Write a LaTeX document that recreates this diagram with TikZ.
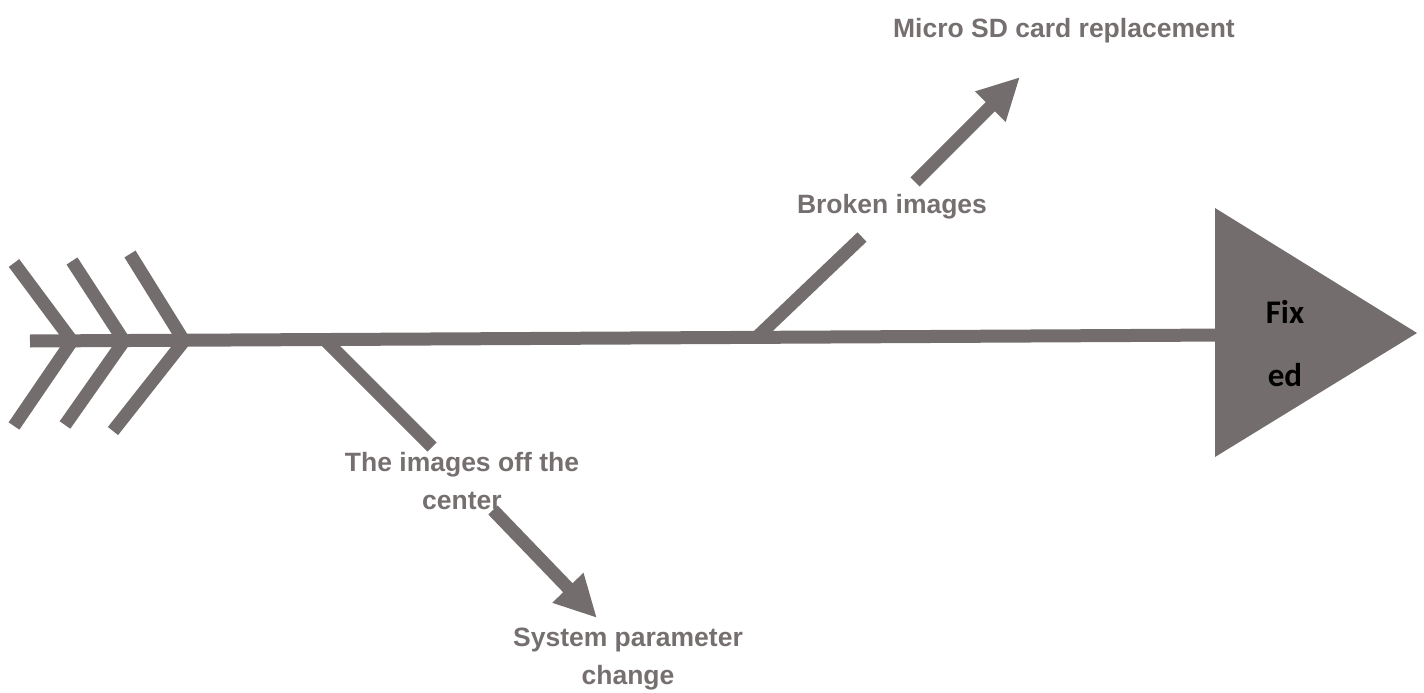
\documentclass[tikz,border=0pt]{standalone}
\usepackage{fontspec}
\setmainfont{Liberation Sans}
\newfontfamily\fixfont{Carlito}
\usetikzlibrary{arrows.meta}
\definecolor{bone}{RGB}{115,110,109}
\definecolor{labelgray}{RGB}{117,112,111}
\tikzset{
  bonestroke/.style={draw=bone, line width=13pt, line cap=butt, line join=miter},
  bonearrow/.style={bonestroke, -{Triangle[length=42pt,width=40pt]}},
  lbl/.style={text=labelgray, align=center, inner sep=0pt,
    font=\fontsize{26.5}{38}\selectfont\bfseries},
  headlbl/.style={text=black, align=center, inner sep=0pt,
    font=\fixfont\fontsize{33}{63}\selectfont\bfseries}
}
\begin{document}
\begin{tikzpicture}[x=1pt,y=-1pt]
\useasboundingbox (0,0) rectangle (1424,693);
% coordinates
\coordinate (tail) at (30,341);
\coordinate (headbase) at (1230,335);
\coordinate (c1t) at (14,263);
\coordinate (c1v) at (72,341);
\coordinate (c1b) at (14,426);
\coordinate (c2t) at (72,261);
\coordinate (c2v) at (124,341);
\coordinate (c2b) at (65,425);
\coordinate (c3t) at (130,254);
\coordinate (c3v) at (184,341);
\coordinate (c3b) at (113,431);
\coordinate (lowroot) at (326,341);
\coordinate (lowend) at (432,447);
\coordinate (lowtail) at (493,510);
\coordinate (lowtip) at (597,618);
\coordinate (uproot) at (757,337);
\coordinate (upend) at (862,237);
\coordinate (uptail) at (915,182);
\coordinate (uptip) at (1020,77);
% head triangle
\fill[bone] (1215,208) -- (1417,333) -- (1215,457) -- cycle;
\node[headlbl] (fixed) at (1285,344) {Fix\\ed};
% spine
\draw[bonestroke] (tail) -- (headbase);
% chevrons
\draw[bonestroke] (c1t) -- (c1v) -- (c1b);
\draw[bonestroke] (c2t) -- (c2v) -- (c2b);
\draw[bonestroke] (c3t) -- (c3v) -- (c3b);
% branches
\draw[bonestroke] (lowroot) -- (lowend);
\draw[bonearrow] (lowtail) -- (lowtip);
\draw[bonestroke] (uproot) -- (upend);
\draw[bonearrow] (uptail) -- (uptip);
% labels
\node[lbl] (micro) at (1064,31) {Micro SD card replacement};
\node[lbl] (broken) at (892,207) {Broken images};
\node[lbl] (offc) at (462,481) {The images off the\\center};
\node[lbl] (sysp) at (628,659) {System parameter\\change};
\end{tikzpicture}
\end{document}
